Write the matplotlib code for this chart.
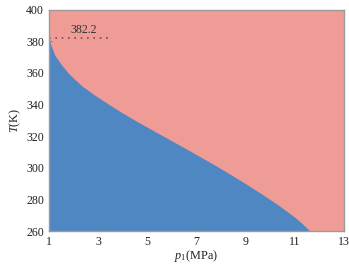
import matplotlib
matplotlib.use("Agg")
import matplotlib.pyplot as plt

# Boundary between the two regions
p1 = [1.0, 1.08, 1.24, 1.55, 1.86, 2.35, 2.87, 3.4, 3.89, 4.5, 5.23, 6.0,
      6.74, 7.56, 8.3, 9.06, 9.7, 10.32, 11.02, 11.3, 11.62]
T_boundary = [382.2, 377.4, 371.0, 364.2, 358.6, 351.6, 345.8, 340.4, 335.6,
              330.0, 323.6, 317.0, 310.6, 303.4, 296.6, 289.4, 283.0, 276.6,
              268.6, 264.8, 260.0]
T_mark = 382.2
mark_label = "382.2"
xticks = [1, 3, 5, 7, 9, 11, 13]
yticks = [260, 280, 300, 320, 340, 360, 380, 400]

plt.rcParams['font.family'] = ['Liberation Serif', 'DejaVu Serif']
plt.rcParams['mathtext.fontset'] = 'custom'
plt.rcParams['mathtext.rm'] = 'Liberation Serif'
plt.rcParams['mathtext.it'] = 'Liberation Serif:italic'

blue = '#4F87C2'
pink = '#F09C96'

fig = plt.figure(figsize=(3.49, 2.67), dpi=100)
ax = fig.add_axes([0.1404, 0.1348, 0.8444, 0.8296])
ax.set_facecolor(pink)
ax.fill_between(p1, T_boundary, 260, color=blue, linewidth=0)
ax.plot([1, 3.41], [T_mark, T_mark], linestyle=(0, (1, 2.8)), color='#7a4a48',
        linewidth=1.2)
ax.text(2.4, 386.8, mark_label, fontsize=8.6, ha='center', va='center',
        color='#333333')

ax.set_xlim(1, 13)
ax.set_ylim(260, 400)
ax.set_xticks(xticks)
ax.set_yticks(yticks)
ax.tick_params(direction='in', length=2.5, width=0.6, color='#6d7f99',
               labelsize=8.6, labelcolor='#222222', pad=3.5)
for s in ax.spines.values():
    s.set_color('#9a9a9a')
    s.set_linewidth(1.0)
ax.set_xlabel(r'$p_1$(MPa)', fontsize=8.8, labelpad=0, color='#222222')
ax.set_ylabel(r'$T$(K)', fontsize=8.8, labelpad=2, color='#222222')

fig.savefig('out.png', dpi=100)
